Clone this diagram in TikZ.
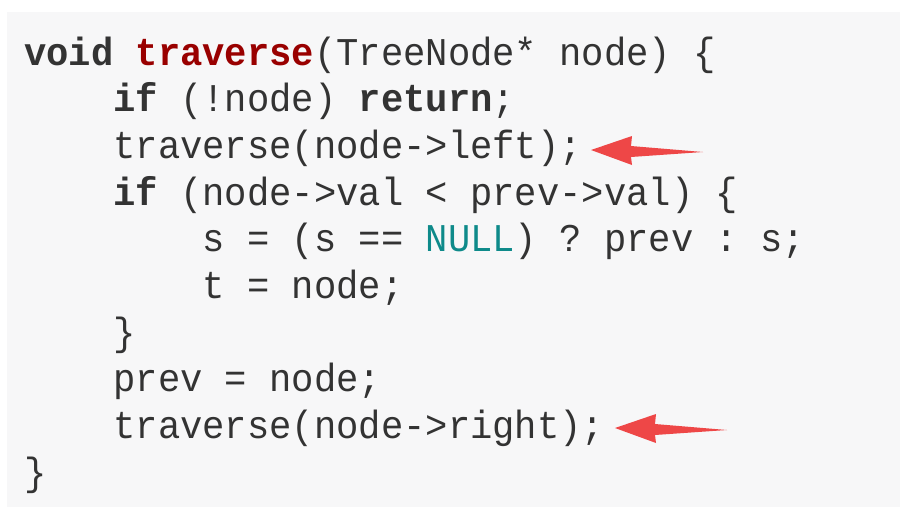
\documentclass[tikz,border=0pt]{standalone}
\usepackage{fontspec}
\setmonofont[FakeStretch=0.946]{Liberation Mono}
\definecolor{codebg}{HTML}{F7F7F8}
\definecolor{codefg}{HTML}{333333}
\definecolor{fnred}{HTML}{990000}
\definecolor{nullteal}{HTML}{0E8A8A}
\definecolor{arrowred}{HTML}{EE4747}
\newcommand{\kw}[1]{\textbf{#1}}
\begin{document}
\begin{tikzpicture}[x=1pt,y=-1pt,
  code/.style={anchor=base west, inner sep=0pt, text=codefg,
    font=\ttfamily\fontsize{39.3}{46}\selectfont},
  redarrow/.pic={\fill[arrowred] (0,0) -- (41,-14) -- (40,-4) -- (112,2) -- (40,7) -- (41,15) -- cycle;}]
\useasboundingbox (0,0) rectangle (900,507);
\fill[codebg] (7,12) rectangle (900,507);
\node[code] (l1)  at (24,65)    {\kw{void} \textcolor{fnred}{\kw{traverse}}(TreeNode* node) \{};
\node[code] (l2)  at (113.2,111.7) {\kw{if} (!node) \kw{return};};
\node[code] (l3)  at (113.2,158.4) {traverse(node->left);};
\node[code] (l4)  at (113.2,205)   {\kw{if} (node->val < prev->val) \{};
\node[code] (l5)  at (202.4,251.8) {s = (s == \textcolor{nullteal}{NULL}) ? prev : s;};
\node[code] (l6)  at (202.4,298.5) {t = node;};
\node[code] (l7)  at (113.2,345)   {\}};
\node[code] (l8)  at (113.2,391.8) {prev = node;};
\node[code] (l9)  at (113.2,438.5) {traverse(node->right);};
\node[code] (l10) at (24,485.2)    {\}};
\coordinate (tipA) at (591,150);
\coordinate (tipB) at (615,428);
\pic at (tipA) {redarrow};
\pic at (tipB) {redarrow};
\end{tikzpicture}
\end{document}
